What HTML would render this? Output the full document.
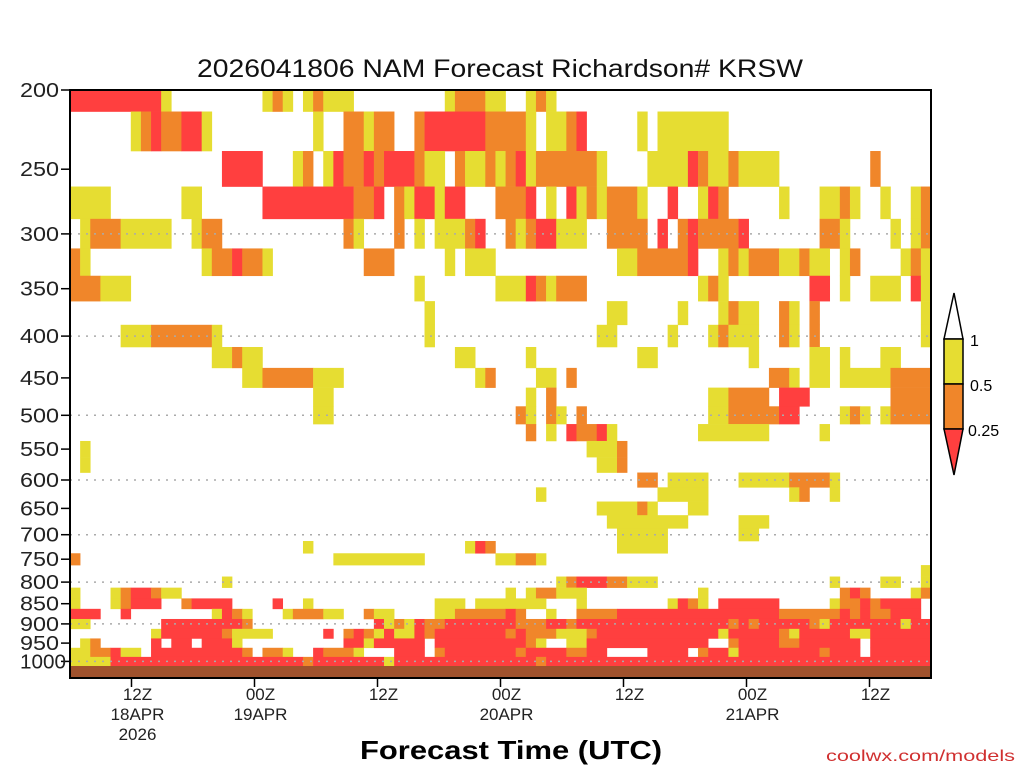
<!DOCTYPE html>
<html><head><meta charset="utf-8"><style>
html,body{margin:0;padding:0;background:#fff;}
svg{display:block;font-family:"Liberation Sans",sans-serif;}
</style></head><body>
<svg id="chart" width="1024" height="768" viewBox="0 0 1024 768">
<text x="500" y="77" font-size="25" text-anchor="middle" textLength="606" lengthAdjust="spacingAndGlyphs" fill="#111">2026041806 NAM Forecast Richardson# KRSW</text>
<g id="cells"></g>
<g id="grid"></g>
<rect x="70" y="666" width="861" height="12" fill="#a0522d"/>
<rect x="70" y="90" width="861" height="588" fill="none" stroke="#000" stroke-width="2"/>
<g id="yaxis"></g>
<g id="xaxis"></g>
<text x="511" y="759" font-size="26" font-weight="bold" text-anchor="middle" textLength="302" lengthAdjust="spacingAndGlyphs" fill="#000">Forecast Time (UTC)</text>
<text x="1015" y="761" font-size="16" text-anchor="end" textLength="189" lengthAdjust="spacingAndGlyphs" fill="#d03030">coolwx.com/models</text>
<g>
<polygon points="954,293 963,339 944,339" fill="#fff" stroke="#000" stroke-width="1.5"/>
<rect x="944" y="339" width="19" height="45" fill="#e6dd32" stroke="#000" stroke-width="1.5"/>
<rect x="944" y="384" width="19" height="45" fill="#f0862a" stroke="#000" stroke-width="1.5"/>
<polygon points="944,429 963,429 954,475" fill="#ff3f3f" stroke="#000" stroke-width="1.5"/>
<text x="970" y="346" font-size="16">1</text>
<text x="970" y="391" font-size="16">0.5</text>
<text x="968" y="436" font-size="16">0.25</text>
</g>
</svg>
<script>
const levels = [200,225,250,275,300,325,350,375,400,425,450,475,500,525,550,575,600,625,650,675,700,725,750,775,800,825,850,875,900,925,950,975,1000];
const rowRuns = [
"0:r,1-8:r,9:y,19:y,20:o,21:y,23:y,24:o,25-27:y,37:y,38-40:o,41-42:y,45:y,46:o,47:y",
"6:y,7:o,8:r,9-10:o,11-12:r,13:y,24:y,27-28:o,29:y,30-31:o,34:o,35-40:r,41-44:o,45:y,47-48:y,49:o,50:r,56:y,58-61:y,62-64:y",
"15-18:r,22:y,23:o,25:y,26:r,27-28:o,29:r,30:o,31-33:r,34:o,35-36:y,38:o,39-40:y,41:o,42:y,43:o,44:r,45:y,46-51:o,52:y,57-59:y,60:y,61:r,62:o,63-64:y,65:o,66-69:y,79:o",
"0-3:y,11-12:y,19-27:r,28:o,29:o,30:r,32:o,33:y,34-35:r,36:y,37-38:r,42-44:o,45:r,47:y,49:r,50:y,51:o,52:y,53-55:o,56:y,59:r,62:y,63:r,64:o,70:y,74-75:y,76:o,77:y,80:y,83:y,84:o",
"1:y,2-4:o,5-9:y,12:y,13-14:o,27:o,28:y,32:o,34:y,36-38:y,39:o,40:r,43:o,44:y,45:o,46-47:r,48-50:y,53-56:o,58:r,60:o,61:r,62-64:o,65:o,66:r,74-75:o,76:y,81:y,83:y,84:o",
"0:o,1:y,13:y,14-15:o,16:r,17-18:o,19:y,29-31:o,37:y,39-41:y,54-55:y,56-60:o,61:r,64:y,65:o,66:y,67-69:o,70-71:y,72:o,73-74:y,76:y,77:o,82:y,83:o,84:y",
"0-2:o,3-5:y,34:y,42-44:y,45:r,46:o,47:y,48-50:o,62:y,63:o,64:y,73-74:r,76:y,79-81:y,83:r,84:y",
"35:y,53-54:y,60:y,64:y,65:o,66-67:y,70:o,71:y,73:o,84:y",
"5-7:y,8-13:o,14:y,35:y,52-53:y,59:y,63:y,64:o,65-67:y,70:o,71:y,73:o,84:y",
"14-15:y,16:o,17-18:y,38-39:y,45:y,56-57:y,67:y,73-74:y,76:y,80-81:y",
"17-18:y,19-23:o,24-26:y,40:y,41:o,46-47:y,49:o,69-70:o,71:y,73-74:y,76-80:y,81-84:o",
"24-25:y,45:y,47:o,63-64:y,65-68:o,70-72:r,81-84:o",
"24-25:y,44:o,45:y,47:o,48:y,50:o,63-64:y,65-68:o,69:o,70-71:r,76:y,77:o,78:y,80:y,81-84:o",
"45:o,47:y,49:r,50-51:o,52:r,53:y,62-68:y,74:y",
"1:y,51-53:y,54:o",
"1:y,52-53:y,54:o",
"56-57:o,59-62:y,66-70:y,71-74:o,75:y",
"46:y,58-62:y,71:y,72:o,75:y",
"52-55:y,56:o,57:y,61-62:y",
"53-60:y,66-68:y",
"54-58:y,66-67:y",
"23:y,39:y,40:r,41:o,54-58:y",
"0:o,26-34:y,42-43:y,44-45:o,46:y",
"84:y",
"15:y,48:y,49:o,50-52:r,53-54:o,55-57:y,75:y,80-81:y,84:y",
"0:y,4:y,5:o,6-7:r,8:o,9-10:y,43:y,45:y,46-47:o,48-50:y,62:y,76:o,77:r,78:o,83:y,84:o",
"0:y,4:y,5:o,6-8:r,11:o,12-15:r,20:r,23:y,36-38:y,40-46:y,50:y,59:y,60:r,61:o,62:y,64-67:r,68-69:r,75:y,76-77:o,78:r,79:o,80-83:r",
"0-2:r,5:r,14:y,15:r,16:o,17:y,21:y,22-23:o,24:o,25-26:y,29:o,30-31:y,36:y,37:y,38-42:o,43:r,44:o,47:y,50:o,51-53:o,54-67:r,68-69:r,70-75:o,76:r,77:o,78:r,79-80:o,81-83:r",
"0-1:y,9-11:r,12-14:r,15-16:r,17:o,30:r,31:y,32:o,33:y,34:r,35:o,36:o,37-42:r,43:r,44-46:o,47-48:r,49:o,50-64:r,65:o,66:r,67:o,68-72:r,73:o,74:y,75-81:r,82:y,83-84:r",
"8:y,9:r,10-11:r,12-14:r,15:o,16-17:y,18-19:y,25:r,27:o,28:r,29:o,30:y,31:r,32-33:y,34:r,35:o,36-42:r,43:o,44:r,45-47:o,48-50:y,51:o,52-63:r,64:y,65-69:r,70:o,71:y,72-76:r,77-78:y,79-84:r",
"1:y,2:o,8:r,10-11:r,13:r,14-15:r,16:y,27:r,28-31:r,29:y,32-34:r,36-42:r,43-44:r,45:o,46:y,49-50:y,51-62:r,65:o,66-69:r,70-71:o,72-77:r,79-84:r",
"0-1:y,2:o,3:o,4:r,5-6:y,8-12:r,13-15:r,16:r,17:o,19-20:o,21:y,24:r,25-26:o,27:o,28:y,32-34:r,36:o,37-42:r,43:r,44:o,45:r,46-48:r,49-50:o,51-52:r,57-60:r,62:o,63-64:r,65:y,66-73:r,74:o,75-77:r,79-84:r",
"0-1:y,2-3:y,4-84:r,23:o,31:y,46:o"
];
const yTickLabels = [200,250,300,350,400,450,500,550,600,650,700,750,800,850,900,950,1000];
const gridLevels = [300,400,500,600,700,800,900,1000];
const xTickHours = [6,18,30,42,54,66,78];
const xTickTop = ["12Z","00Z","12Z","00Z","12Z","00Z","12Z"];
const xTickMid = ["18APR","19APR","","20APR","","21APR",""];
const xTickBot = ["2026","","","","","",""];

const NS = "http://www.w3.org/2000/svg";
const NCOL = 85, X0 = 70, X1 = 931, Y0 = 90, YG = 666;
const colW = (X1 - X0) / NCOL;
const colors = {y:"#e6dd32", o:"#f0862a", r:"#ff3f3f"};
function yP(p){ return Y0 + 355*Math.log(p/200); }
function xCol(c){ return X0 + c*colW; }
function xHour(h){ return X0 + h*10.25; }
function mk(tag, attrs, parent){ const e=document.createElementNS(NS,tag); for(const k in attrs) e.setAttribute(k,attrs[k]); parent.appendChild(e); return e; }

const cells = document.getElementById('cells');
levels.forEach((p, li) => {
  const grid = new Array(NCOL).fill(null);
  const runs = rowRuns[li] || "";
  runs.split(',').filter(s=>s).forEach(s => {
    const [rng, cat] = s.split(':');
    const parts = rng.split('-').map(Number);
    const a = parts[0], b = parts.length>1 ? parts[1] : parts[0];
    for(let c=a;c<=b && c<NCOL;c++) grid[c]=cat;
  });
  const top = li===0 ? Y0 : yP(p-12.5);
  const bot = li===levels.length-1 ? YG : yP(p+12.5);
  let c=0;
  while(c<NCOL){
    if(!grid[c]){c++;continue;}
    let d=c; while(d+1<NCOL && grid[d+1]===grid[c]) d++;
    const r = mk('rect',{x:xCol(c).toFixed(2), y:top.toFixed(2), width:(xCol(d+1)-xCol(c)+0.3).toFixed(2), height:(bot-top+0.3).toFixed(2), fill:colors[grid[c]]}, cells);
    
    
    c=d+1;
  }
});

const gridG = document.getElementById('grid');
gridLevels.forEach(p => {
  const l = mk('line',{x1:X0, x2:X1, y1:yP(p).toFixed(1), y2:yP(p).toFixed(1), stroke:"#aaa", 'stroke-width':1.5, 'stroke-dasharray':"2,6"}, gridG);
  
  
});

const yaxis = document.getElementById('yaxis');
yTickLabels.forEach(p => {
  const y = yP(p);
  const t = mk('line',{x1:61, x2:70, y1:y.toFixed(1), y2:y.toFixed(1), stroke:"#000", 'stroke-width':1.5}, yaxis);
  
  
  const s = String(p);
  const tx = mk('text',{x:20, y:(y+7).toFixed(1), 'font-size':20, textLength: s.length===4?46:39, lengthAdjust:"spacingAndGlyphs", fill:"#222"}, yaxis);
  tx.textContent = s;
  
  
});

const xaxis = document.getElementById('xaxis');
xTickHours.forEach((h, i) => {
  const x = xHour(h);
  const t = mk('line',{x1:x.toFixed(1), x2:x.toFixed(1), y1:678, y2:687, stroke:"#000", 'stroke-width':1.5}, xaxis);
  
  
  [[xTickTop[i],700],[xTickMid[i],720],[xTickBot[i],740]].forEach(([s,yy]) => {
    if(!s) return;
    const tx = mk('text',{x:(x+6).toFixed(1), y:yy, 'font-size':17, 'text-anchor':"middle", fill:"#222"}, xaxis);
    tx.textContent = s;
    
    
  });
});
</script>
</body></html>
